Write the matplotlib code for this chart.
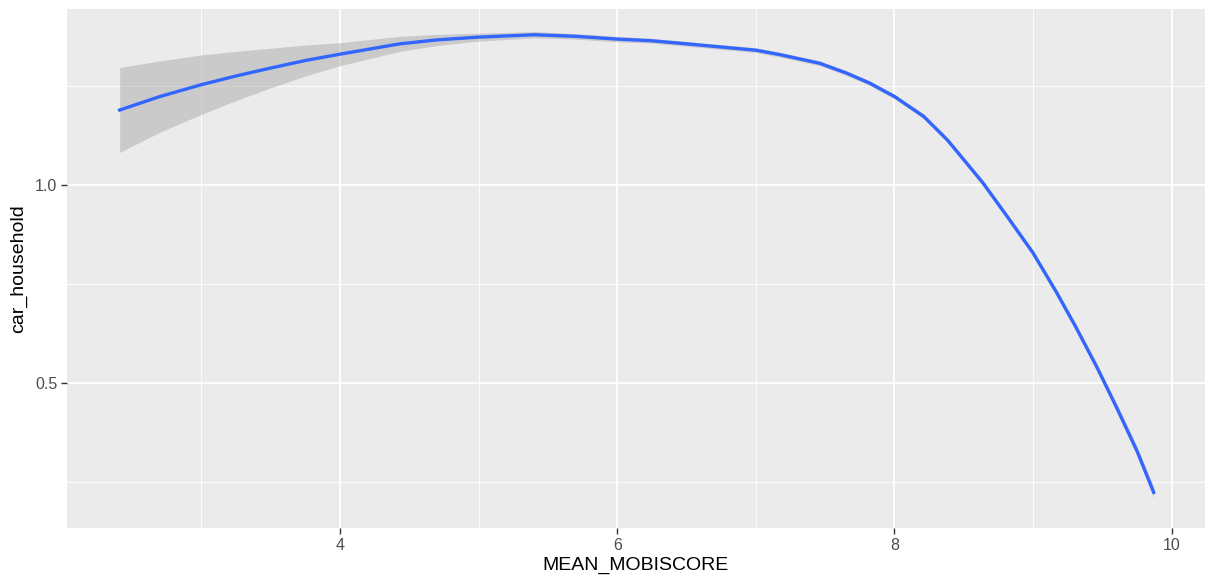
import numpy as np
import matplotlib
matplotlib.use("Agg")
import matplotlib.pyplot as plt
from matplotlib.ticker import FixedLocator

plt.rcParams['font.family'] = ['Liberation Sans', 'DejaVu Sans']

# loess fit
mobiscore = [2.41, 2.7, 3.0, 3.25, 3.5, 3.75, 4.0, 4.43, 4.7, 5.0, 5.4, 5.7,
             6.0, 6.24, 6.5, 6.75, 7.0, 7.17, 7.46, 7.655, 7.82, 8.0, 8.21,
             8.38, 8.52, 8.64, 8.83, 9.0, 9.17, 9.31, 9.46, 9.6, 9.75, 9.87]
car_fit = [1.189, 1.223, 1.253, 1.275, 1.295, 1.314, 1.330, 1.356, 1.366, 1.373,
           1.379, 1.375, 1.368, 1.364, 1.356, 1.348, 1.340, 1.329, 1.307, 1.282,
           1.257, 1.223, 1.173, 1.114, 1.055, 1.004, 0.912, 0.828, 0.728, 0.640,
           0.540, 0.440, 0.328, 0.224]
ci_half = [0.107, 0.090, 0.075, 0.062, 0.050, 0.039, 0.029, 0.019, 0.014, 0.010,
           0.008, 0.007, 0.007, 0.006, 0.006, 0.006, 0.006, 0.006, 0.006, 0.006,
           0.006, 0.006, 0.006, 0.006, 0.006, 0.007, 0.007, 0.007, 0.008, 0.008,
           0.009, 0.010, 0.012, 0.014]

x = np.array(mobiscore)
y = np.array(car_fit)
se = np.array(ci_half)

fig = plt.figure(figsize=(12.12, 5.8), dpi=100)
ax = fig.add_axes([0.0553, 0.0897, 0.9389, 0.8948])
ax.set_facecolor('#EBEBEB')

ax.fill_between(x, y - se, y + se, color='#999999', alpha=0.4, lw=0, zorder=2)
ax.plot(x, y, color='#3366FF', lw=2.4, zorder=3, solid_joinstyle='round')

ax.set_xlim(2.03, 10.24)
ax.set_ylim(0.134, 1.444)

ax.xaxis.set_major_locator(FixedLocator([4, 6, 8, 10]))
ax.xaxis.set_minor_locator(FixedLocator([3, 5, 7, 9]))
ax.yaxis.set_major_locator(FixedLocator([0.5, 1.0]))
ax.yaxis.set_minor_locator(FixedLocator([0.25, 0.75, 1.25]))
ax.set_yticklabels(['0.5', '1.0'])

ax.grid(which='major', color='white', lw=1.3, zorder=1)
ax.grid(which='minor', color='white', lw=0.6, zorder=1)
ax.set_axisbelow(True)

for s in ax.spines.values():
    s.set_visible(False)

ax.tick_params(which='major', length=4, width=1, color='#333333',
               labelcolor='#4D4D4D', labelsize=11.5, pad=3)
ax.tick_params(which='minor', length=0)

ax.set_xlabel('MEAN_MOBISCORE', fontsize=14, color='black', labelpad=3)
ax.set_ylabel('car_household', fontsize=14, color='black', labelpad=6)

fig.savefig('out.png', dpi=100)
